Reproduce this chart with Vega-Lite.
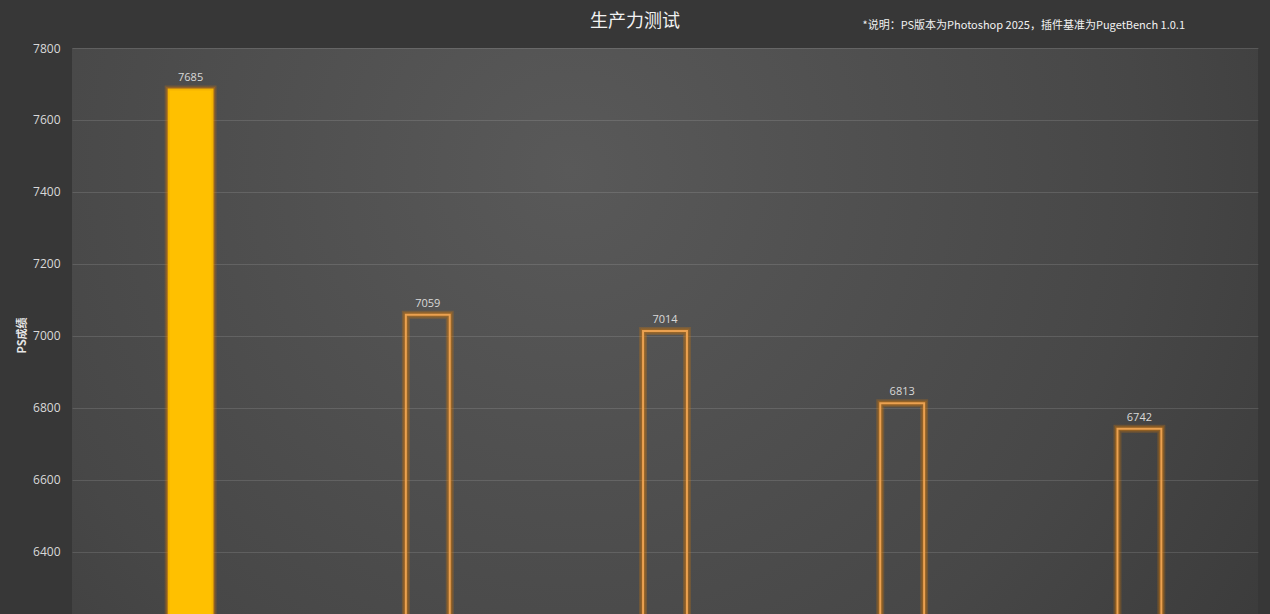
{
  "$schema": "https://vega.github.io/schema/vega-lite/v6.json",
  "width": 1186,
  "height": 600,
  "autosize": {"type": "none"},
  "padding": {"left": 72, "top": 48, "right": 12, "bottom": 0},
  "background": "#373737",
  "config": {
    "font": "Open Sans",
    "view": {
      "stroke": null,
      "fill": {
        "gradient": "radial",
        "x1": 0.42, "y1": 0.35, "r1": 0,
        "x2": 0.42, "y2": 0.35, "r2": 0.8,
        "stops": [
          {"offset": 0, "color": "#595959"},
          {"offset": 0.6, "color": "#474747"},
          {"offset": 1, "color": "#363636"}
        ]
      }
    }
  },
  "title": {
    "text": "生产力测试",
    "font": "Noto Sans CJK SC",
    "fontSize": 18,
    "fontWeight": "normal",
    "color": "#f2f2f2",
    "offset": -12,
    "anchor": "middle",
    "dx": -30
  },
  "data": {
    "values": [
      {"name": "1", "score": 7685, "highlight": true},
      {"name": "2", "score": 7059, "highlight": false},
      {"name": "3", "score": 7014, "highlight": false},
      {"name": "4", "score": 6813, "highlight": false},
      {"name": "5", "score": 6742, "highlight": false}
    ]
  },
  "encoding": {
    "x": {
      "field": "name",
      "type": "nominal",
      "sort": null,
      "scale": {"paddingInner": 0.815, "paddingOuter": 0.4075},
      "axis": {
        "orient": "top",
        "labels": false,
        "ticks": false,
        "domain": false,
        "grid": false,
        "title": "*说明：PS版本为Photoshop 2025，插件基准为PugetBench 1.0.1",
        "titleFont": "Noto Sans CJK SC",
        "titleFontSize": 11,
        "titleFontWeight": "normal",
        "titleColor": "#f2f2f2",
        "titleAlign": "left",
        "titleAnchor": "start",
        "titleBaseline": "alphabetic",
        "titleX": 790,
        "titleY": -20
      }
    },
    "y": {
      "field": "score",
      "type": "quantitative",
      "scale": {"domain": [6133.3, 7800], "nice": false, "zero": false},
      "axis": {
        "values": [6400, 6600, 6800, 7000, 7200, 7400, 7600, 7800],
        "format": "d",
        "labelColor": "#d9d9d9",
        "labelFontSize": 12,
        "labelPadding": 12,
        "ticks": false,
        "domain": false,
        "gridColor": "#ffffff",
        "gridOpacity": 0.12,
        "title": "PS成绩",
        "titleFont": "Noto Sans CJK SC",
        "titleFontSize": 11,
        "titleFontWeight": "bold",
        "titleColor": "#e6e6e6",
        "titleX": -50,
        "titleY": 287,
        "titleAlign": "center",
        "titleBaseline": "middle"
      }
    }
  },
  "layer": [
    {
      "mark": {"type": "bar", "clip": true, "fill": "transparent", "stroke": "#E07B00", "strokeWidth": 8, "strokeOpacity": 0.25}
    },
    {
      "mark": {"type": "bar", "clip": true, "fill": "transparent", "stroke": "#E07B00", "strokeWidth": 5, "strokeOpacity": 0.3}
    },
    {
      "mark": {"type": "bar", "clip": true, "stroke": "#EBA150", "strokeWidth": 2},
      "encoding": {
        "fill": {
          "condition": {"test": "datum.highlight", "value": "#FFC000"},
          "value": "transparent"
        },
        "stroke": {
          "condition": {"test": "datum.highlight", "value": "#F5B400"},
          "value": "#EBA150"
        }
      }
    },
    {
      "mark": {"type": "text", "dy": -11, "color": "#d9d9d9", "fontSize": 11},
      "encoding": {"text": {"field": "score", "type": "quantitative"}}
    }
  ]
}
